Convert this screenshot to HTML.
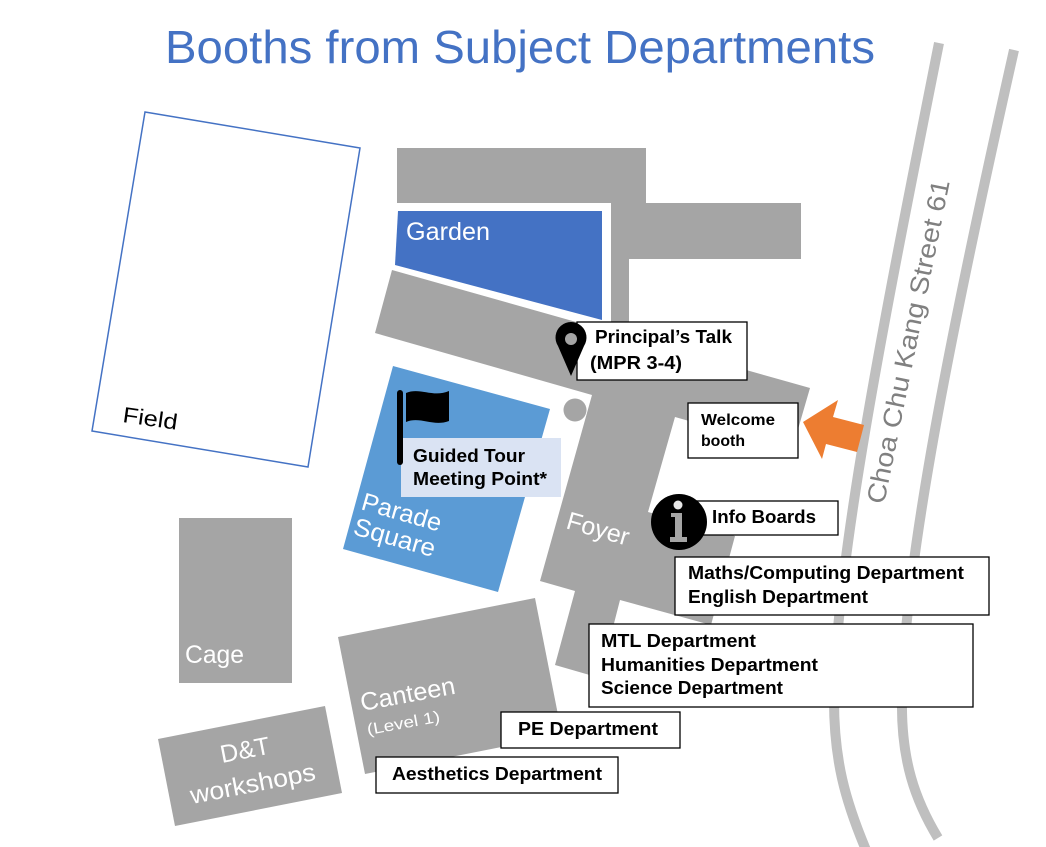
<!DOCTYPE html>
<html><head><meta charset="utf-8"><style>
html,body{margin:0;padding:0;background:#fff;}
svg{display:block;}
text{font-family:"Liberation Sans",Arial,sans-serif;}
.b{font-weight:bold;font-size:18px;fill:#000;}
.w{fill:#fff;font-size:25px;}
.box{fill:#fff;stroke:#000;stroke-width:1.3;}
</style></head><body>
<svg width="1046" height="847" viewBox="0 0 1046 847" xmlns="http://www.w3.org/2000/svg">
<rect width="1046" height="847" fill="#fff"/>
<text x="165" y="63" font-size="46" fill="#4472C4" textLength="710" lengthAdjust="spacingAndGlyphs">Booths from Subject Departments</text>
<path d="M939,43 C890,290 835,560 834,700 C834,760 845,800 866,850" stroke="#BFBFBF" stroke-width="10" fill="none"/>
<path d="M1014,50 C960,290 903,560 902,700 C901,760 915,800 938,838" stroke="#BFBFBF" stroke-width="10" fill="none"/>
<text transform="translate(884,505) rotate(-78.5)" font-size="26" fill="#808080" textLength="330" lengthAdjust="spacingAndGlyphs">Choa Chu Kang Street 61</text>
<polygon points="145,112 360,148 308,467 92,431" fill="none" stroke="#4472C4" stroke-width="1.5"/>
<text transform="translate(122,422) rotate(8)" font-size="22" fill="#000" textLength="55" lengthAdjust="spacingAndGlyphs">Field</text>
<g fill="#A5A5A5">
<rect x="397" y="148" width="249" height="55"/>
<rect x="611" y="203" width="190" height="56"/>
<rect x="611" y="203" width="18" height="136"/>
<polygon points="392,270 810,388 792,450 675,417 648,512 735,536 711,625 620,600 600,678 555,665 575,591 540,581 592,395 375,333"/>
<circle cx="575" cy="410" r="11.5"/>
<rect x="179" y="518" width="113" height="165"/>
<polygon points="338,637 535,598 562,735 365,774"/>
<polygon points="158,739 325,706 342,793 175,826"/>
</g>
<polygon points="398,211 602,211 602,320 395,265" fill="#4472C4"/>
<polygon points="393,366 550,409 498,592 343,549" fill="#5B9BD5"/>
<text class="w" x="406" y="240" textLength="84" lengthAdjust="spacingAndGlyphs">Garden</text>
<text class="w" x="185" y="663" textLength="59" lengthAdjust="spacingAndGlyphs">Cage</text>
<text class="w" font-size="24" transform="translate(565,528) rotate(16)" textLength="64" lengthAdjust="spacingAndGlyphs">Foyer</text>
<text class="w" transform="translate(360,509) rotate(16)" textLength="82" lengthAdjust="spacingAndGlyphs">Parade</text>
<text class="w" transform="translate(352,534) rotate(16)" textLength="84" lengthAdjust="spacingAndGlyphs">Square</text>
<text class="w" transform="translate(362,711) rotate(-10.5)" textLength="96" lengthAdjust="spacingAndGlyphs">Canteen</text>
<text class="w" style="font-size:16px" transform="translate(368,735) rotate(-10.5)" textLength="74" lengthAdjust="spacingAndGlyphs">(Level 1)</text>
<text class="w" transform="translate(222,763) rotate(-11)" textLength="50" lengthAdjust="spacingAndGlyphs">D&amp;T</text>
<text class="w" transform="translate(192,804) rotate(-11)" textLength="127" lengthAdjust="spacingAndGlyphs">workshops</text>
<rect x="401" y="438" width="160" height="59" fill="#DAE3F3"/>
<rect x="397" y="390" width="6" height="75" rx="3" fill="#000"/>
<path d="M406,393 C420,387 433,398 449,391 L449,421 C433,427 420,416 406,422 Z" fill="#000"/>
<text class="b" x="413" y="462" textLength="112" lengthAdjust="spacingAndGlyphs">Guided Tour</text>
<text class="b" x="413" y="485" textLength="134" lengthAdjust="spacingAndGlyphs">Meeting Point*</text>
<rect class="box" x="577" y="322" width="170" height="58"/>
<text class="b" x="595" y="343" textLength="137" lengthAdjust="spacingAndGlyphs">Principal’s Talk</text>
<text class="b" x="590" y="369" textLength="92" lengthAdjust="spacingAndGlyphs">(MPR 3-4)</text>
<path d="M571,376 L558,346 A15.5,15.5 0 1 1 584,346 Z" fill="#000"/>
<circle cx="571" cy="339" r="6" fill="#A5A5A5"/>
<rect class="box" x="688" y="403" width="110" height="55"/>
<text class="b" style="font-size:16px" x="701" y="425" textLength="74" lengthAdjust="spacingAndGlyphs">Welcome</text>
<text class="b" style="font-size:16px" x="701" y="446" textLength="44" lengthAdjust="spacingAndGlyphs">booth</text>
<polygon points="803,422 838,400 833,417 864,425 857,452 826,444 822,459" fill="#ED7D31"/>
<rect class="box" x="693" y="501" width="145" height="34"/>
<text class="b" x="712" y="523" textLength="104" lengthAdjust="spacingAndGlyphs">Info Boards</text>
<circle cx="679" cy="522" r="28" fill="#000"/>
<circle cx="678" cy="505" r="4.5" fill="#E8E8E8"/>
<rect x="671" y="513" width="11" height="4" fill="#A5A5A5"/>
<rect x="675" y="513" width="7" height="27" fill="#A5A5A5"/>
<rect x="670" y="537" width="17" height="5" fill="#A5A5A5"/>
<rect class="box" x="675" y="557" width="314" height="58"/>
<text class="b" x="688" y="579" textLength="276" lengthAdjust="spacingAndGlyphs">Maths/Computing Department</text>
<text class="b" x="688" y="603" textLength="180" lengthAdjust="spacingAndGlyphs">English Department</text>
<rect class="box" x="589" y="624" width="384" height="83"/>
<text class="b" x="601" y="647" textLength="155" lengthAdjust="spacingAndGlyphs">MTL Department</text>
<text class="b" x="601" y="671" textLength="217" lengthAdjust="spacingAndGlyphs">Humanities Department</text>
<text class="b" x="601" y="694" textLength="182" lengthAdjust="spacingAndGlyphs">Science Department</text>
<rect class="box" x="501" y="712" width="179" height="36"/>
<text class="b" x="518" y="735" textLength="140" lengthAdjust="spacingAndGlyphs">PE Department</text>
<rect class="box" x="376" y="757" width="242" height="36"/>
<text class="b" x="392" y="780" textLength="210" lengthAdjust="spacingAndGlyphs">Aesthetics Department</text>
</svg>
</body></html>
